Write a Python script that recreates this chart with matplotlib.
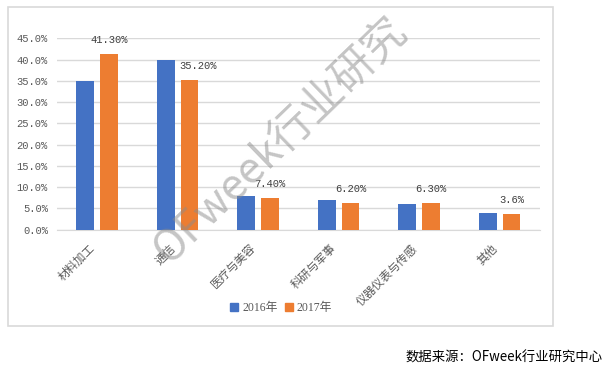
import numpy as np
import matplotlib
matplotlib.use("Agg")
import matplotlib.pyplot as plt
import matplotlib.transforms as mtransforms
from matplotlib.patches import Rectangle, Patch

plt.rcParams['font.family'] = ['Noto Sans CJK SC', 'DejaVu Sans']

# data
categories = ['材料加工', '通信', '医疗与美容', '科研与军事', '仪器仪表与传感', '其他']
share_2016 = [35.0, 40.0, 8.0, 7.0, 6.0, 4.0]
share_2017 = [41.3, 35.2, 7.4, 6.2, 6.3, 3.6]
labels_2017 = ['41.30%', '35.20%', '7.40%', '6.20%', '6.30%', '3.6%']
series_names = ['2016年', '2017年']
yticks = np.arange(0, 46, 5)

blue = '#4472C4'
orange = '#ED7D31'
grid_c = '#D9D9D9'
tick_c = '#595959'

fig = plt.figure(figsize=(6.08, 3.70), dpi=100)
W, H = 608, 370

# chart frame
fig.patches.append(Rectangle((8 / W, 1 - 326 / H), 545 / W, 319 / H,
                             transform=fig.transFigure, fill=False,
                             edgecolor=grid_c, linewidth=1.2, zorder=0))

ax = fig.add_axes([57 / W, 1 - 229.7 / H, 483 / W, 191.4 / H])
x = np.arange(len(categories))
bw = 0.22
ax.bar(x - 0.15, share_2016, bw, color=blue, zorder=3)
bars17 = ax.bar(x + 0.145, share_2017, bw, color=orange, zorder=3)

for i, (b, lab) in enumerate(zip(bars17, labels_2017)):
    dx = 6.5 if i == 1 else 0
    ax.annotate(lab, (b.get_x() + b.get_width() / 2, b.get_height()),
                xytext=(dx, 10), textcoords='offset points', ha='center', va='center',
                fontsize=7.6, color='#404040', family='Liberation Mono')

ax.set_xlim(-0.5, len(categories) - 0.5)
ax.set_ylim(0, 45)
ax.set_yticks(yticks)
ax.set_yticklabels([f'{v:.1f}%' for v in yticks], family='Liberation Mono',
                   fontsize=7.6, color=tick_c)
ax.set_xticks(x)
ax.set_xticklabels(categories, rotation=45, ha='right', va='center',
                   rotation_mode='anchor', fontsize=8.3, color=tick_c)
ax.tick_params(axis='both', length=0)
ax.tick_params(axis='y', pad=6.5)
ax.tick_params(axis='x', pad=12)
shift = mtransforms.ScaledTranslation(-3 / 72, 0, fig.dpi_scale_trans)
for t in ax.get_xticklabels():
    t.set_transform(t.get_transform() + shift)
ax.grid(axis='y', color=grid_c, linewidth=1, zorder=0)
for s in ['top', 'right', 'left']:
    ax.spines[s].set_visible(False)
ax.spines['bottom'].set_color(grid_c)

handles = [Patch(color=blue), Patch(color=orange)]
fig.legend(handles, series_names, loc='center', bbox_to_anchor=(281 / W, 1 - 308 / H),
           ncol=2, frameon=False, handlelength=0.7, handleheight=0.7,
           handletextpad=0.35, columnspacing=0.6, labelcolor=tick_c,
           prop={'family': ['Liberation Serif', 'Noto Sans CJK SC'], 'size': 8.5})

# watermark
fig.text(281 / W, 1 - 141 / H, 'OFweek行业研究', rotation=44, ha='center', va='center',
         fontsize=31, color='#8C8C8C', alpha=0.5, fontweight='light',
         family=['Noto Sans CJK SC'], zorder=10)

fig.text(603 / W, 1 - 358 / H, '数据来源：OFweek行业研究中心', ha='right', va='center',
         fontsize=9.6, color='black', family=['Noto Sans CJK SC'])

fig.savefig('out.png', dpi=100)
